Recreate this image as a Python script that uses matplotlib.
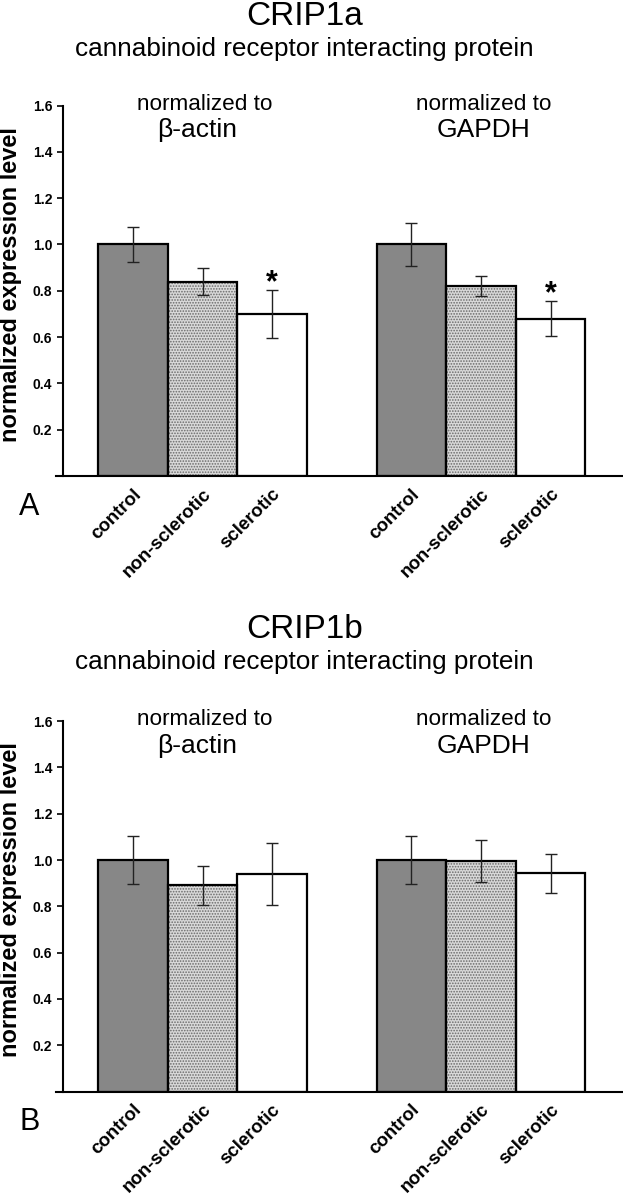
import matplotlib.pyplot as plt
import numpy as np

plt.rcParams['font.family'] = ['Liberation Sans', 'DejaVu Sans']
plt.rcParams['hatch.linewidth'] = 0.8

W, H = 623, 1199

# data
groups = ['control', 'non-sclerotic', 'sclerotic']
norm_refs = ['β-actin', 'GAPDH']

crip1a_actin = [1.00, 0.84, 0.70]
crip1a_actin_err = [0.077, 0.059, 0.103]
crip1a_gapdh = [1.00, 0.82, 0.68]
crip1a_gapdh_err = [0.093, 0.044, 0.074]
crip1a_signif = [False, False, True]

crip1b_actin = [1.00, 0.89, 0.94]
crip1b_actin_err = [0.102, 0.085, 0.133]
crip1b_gapdh = [1.00, 0.995, 0.943]
crip1b_gapdh_err = [0.104, 0.090, 0.084]
crip1b_signif = [False, False, False]

yticks = [0.2, 0.4, 0.6, 0.8, 1.0, 1.2, 1.4, 1.6]

bar_colors = ['#878787', '#d9d9d9', 'white']
bar_hatches = [None, '......', None]


def fx(px):
    return px / W


def fy(py):
    return 1 - py / H


def draw_panel(ax, means, errs, signif):
    """ two groups of three bars, one group per reference gene """
    for k, (m, e) in enumerate(zip(means, errs)):
        x = np.arange(len(groups)) + 4 * k
        for i in range(len(groups)):
            ax.bar(x[i], m[i], width=1.0, color=bar_colors[i], hatch=bar_hatches[i],
                   edgecolor='#6a6a6a', linewidth=0, zorder=1)
            ax.bar(x[i], m[i], width=1.0, fill=False, edgecolor='black', linewidth=1.6, zorder=2)
        ax.errorbar(x, m, yerr=e, fmt='none', ecolor='#222222', elinewidth=1.0,
                    capsize=4.3, capthick=1.0, zorder=3)
        for xi, mi, ei, si in zip(x, m, e, signif):
            if si:
                ax.text(xi, mi + ei - 0.005, '*', ha='center', va='baseline',
                        fontsize=22, fontweight='bold', zorder=4)

    ax.set_xlim(-1.099, 7.024)
    ax.set_ylim(0, 1.6)
    for side in ('top', 'right'):
        ax.spines[side].set_visible(False)
    ax.spines['left'].set_position(('data', -1.0))
    ax.spines['left'].set_bounds(0, 1.6)
    ax.spines['left'].set_linewidth(1.5)
    ax.spines['bottom'].set_linewidth(1.5)

    ax.set_yticks(yticks, ['%.1f' % t for t in yticks], fontweight='bold', fontsize=10)
    ax.tick_params(axis='y', direction='out', length=4, width=1.2, pad=4)
    ax.set_xticks([0, 1, 2, 4, 5, 6], groups * 2, rotation=45, ha='right',
                  rotation_mode='anchor', fontweight='bold', fontsize=13.5)
    ax.tick_params(axis='x', length=0, pad=7)

    ax.set_ylabel('normalized expression level', fontweight='bold', fontsize=17, va='center')
    ax.yaxis.set_label_coords((11 - 56.4) / 565.4, 0.517)

    ax.text(1.036, 1.581, 'normalized to', ha='center', va='baseline', fontsize=16.2)
    ax.text(0.928, 1.464, norm_refs[0], ha='center', va='baseline', fontsize=19)
    ax.text(5.044, 1.581, 'normalized to', ha='center', va='baseline', fontsize=16.2)
    ax.text(5.044, 1.464, norm_refs[1], ha='center', va='baseline', fontsize=19)


fig = plt.figure(figsize=(W / 100, H / 100), dpi=100)

panels = [
    ('CRIP1a', 'A', 0, 476.0, (crip1a_actin, crip1a_gapdh), (crip1a_actin_err, crip1a_gapdh_err), crip1a_signif),
    ('CRIP1b', 'B', 613, 1091.5, (crip1b_actin, crip1b_gapdh), (crip1b_actin_err, crip1b_gapdh_err), crip1b_signif),
]

for title, letter, off, base_px, means, errs, signif in panels:
    top_px = base_px - 370.4
    ax = fig.add_axes([fx(56.4), fy(base_px), fx(565.4), (base_px - top_px) / H])
    draw_panel(ax, means, errs, signif)
    fig.text(fx(305), fy(25 + off), title, ha='center', va='baseline', fontsize=24)
    fig.text(fx(304), fy(56 + off), 'cannabinoid receptor interacting protein',
             ha='center', va='baseline', fontsize=18.8)
    fig.text(fx(29.5), fy(base_px + 31), letter, ha='center', va='center', fontsize=22)

fig.savefig('out.png', dpi=100)
